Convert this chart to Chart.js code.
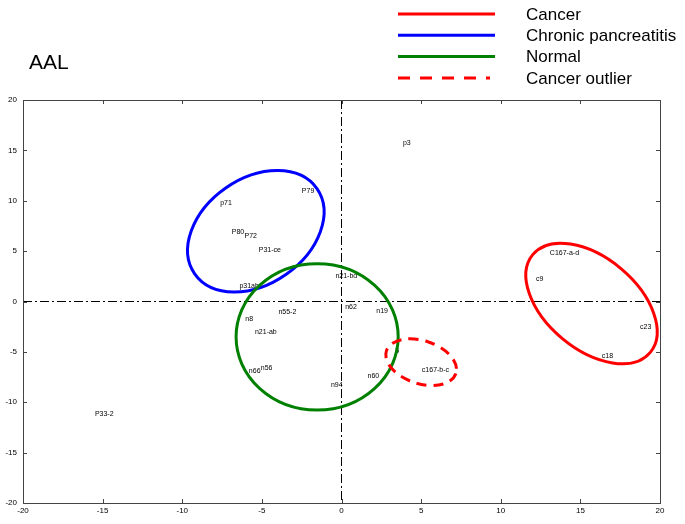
<!DOCTYPE html>
<html>
<head>
<meta charset="utf-8">
<script src="https://cdn.jsdelivr.net/npm/chart.js@4/dist/chart.umd.min.js"></script>
<style>
  body { margin: 0; background: #fff; }
  #wrap { width: 685px; height: 524px; }
</style>
</head>
<body>
<div id="wrap"><canvas id="chart" width="685" height="524"></canvas></div>
<script>
// sample names and their coordinates
const sampleNames = ['p3', 'P79', 'p71', 'P80', 'P72', 'P31-ce', 'p31ab',
  'n21-bd', 'n62', 'n19', 'n55-2', 'n8', 'n21-ab', 'n66', 'n56', 'n94', 'n60', '5',
  'c167-b-c', 'C167-a-d', 'c9', 'c23', 'c18', 'P33-2'];
const sampleX = [4.1, -2.1, -7.25, -6.5, -5.7, -4.5, -5.8,
  0.3, 0.6, 2.55, -3.4, -5.8, -4.75, -5.45, -4.7, -0.3, 2.0, 3.5,
  5.9, 14.0, 12.45, 19.1, 16.7, -14.9];
const sampleY = [15.75, 10.95, 9.8, 6.85, 6.45, 5.15, 1.5,
  2.5, -0.55, -0.9, -1.05, -1.7, -3.0, -6.95, -6.6, -8.3, -7.45, -4.95,
  -6.85, 4.8, 2.25, -2.55, -5.45, -11.2];

// axis ticks
const xTicks = [-20, -15, -10, -5, 0, 5, 10, 15, 20];
const yTicks = [-20, -15, -10, -5, 0, 5, 10, 15, 20];

// group ellipses: centre and two semi-axis vectors in data units
const groupNames = ['Cancer', 'Chronic pancreatitis', 'Normal', 'Cancer outlier'];
const groupColors = ['#ff0000', '#0000ff', '#008000', '#ff0000'];
const groupDashed = [false, false, false, true];
const groupCenters = [[15.7, -0.2], [-5.38, 6.97], [-1.53, -3.51], [5.0, -6.02]];
const groupAxisU = [[3.69, -4.85], [3.84, 4.23], [5.09, 0], [2.18, -1.12]];
const groupAxisV = [[-1.83, -3.49], [1.89, -4.29], [0, 7.26], [-0.42, -2.03]];

const FONT = 'Arial, "Liberation Sans", sans-serif';

function ellipsePath(ctx, xs, ys, c, u, v) {
  const cx = xs.getPixelForValue(c[0]), cy = ys.getPixelForValue(c[1]);
  const ux = xs.getPixelForValue(c[0] + u[0]) - cx, uy = ys.getPixelForValue(c[1] + u[1]) - cy;
  const vx = xs.getPixelForValue(c[0] + v[0]) - cx, vy = ys.getPixelForValue(c[1] + v[1]) - cy;
  ctx.beginPath();
  ctx.save();
  ctx.transform(ux, uy, vx, vy, cx, cy);
  ctx.arc(0, 0, 1, 0, Math.PI * 2);
  ctx.restore();
}

const decor = {
  id: 'decor',
  beforeDatasetsDraw(chart) {
    const { ctx, chartArea: a, scales: { x, y } } = chart;
    // dash-dot zero lines
    ctx.save();
    ctx.strokeStyle = '#000';
    ctx.lineWidth = 1;
    ctx.setLineDash([9, 3, 2, 3]);
    const y0 = y.getPixelForValue(0), x0 = x.getPixelForValue(0);
    ctx.beginPath();
    ctx.moveTo(a.left, y0); ctx.lineTo(a.right, y0);
    ctx.moveTo(x0, a.top); ctx.lineTo(x0, a.bottom);
    ctx.stroke();
    ctx.restore();
  },
  afterDatasetsDraw(chart) {
    const { ctx, chartArea: a, scales: { x, y } } = chart;
    // point labels
    const meta = chart.getDatasetMeta(0);
    ctx.save();
    ctx.font = '7px ' + FONT;
    ctx.fillStyle = '#000';
    ctx.textAlign = 'center';
    ctx.textBaseline = 'middle';
    meta.data.forEach((pt, i) => ctx.fillText(sampleNames[i], pt.x, pt.y));
    ctx.restore();

    // ellipses
    groupNames.forEach((g, i) => {
      ctx.save();
      ellipsePath(ctx, x, y, groupCenters[i], groupAxisU[i], groupAxisV[i]);
      ctx.strokeStyle = groupColors[i];
      ctx.lineWidth = 3;
      if (groupDashed[i]) ctx.setLineDash([10, 7]);
      ctx.stroke();
      ctx.restore();
    });

    // frame and inward ticks
    ctx.save();
    ctx.strokeStyle = '#444';
    ctx.lineWidth = 1;
    ctx.strokeRect(a.left + 0.5, a.top + 0.5, a.right - a.left, a.bottom - a.top);
    ctx.beginPath();
    xTicks.forEach(v => {
      const px = Math.round(x.getPixelForValue(v)) + 0.5;
      ctx.moveTo(px, a.bottom); ctx.lineTo(px, a.bottom - 4);
      ctx.moveTo(px, a.top); ctx.lineTo(px, a.top + 4);
    });
    yTicks.forEach(v => {
      const py = Math.round(y.getPixelForValue(v)) + 0.5;
      ctx.moveTo(a.left, py); ctx.lineTo(a.left + 4, py);
      ctx.moveTo(a.right, py); ctx.lineTo(a.right - 4, py);
    });
    ctx.stroke();
    ctx.restore();
  },
  afterDraw(chart) {
    const { ctx } = chart;
    ctx.save();
    // title
    ctx.fillStyle = '#000';
    ctx.font = '21px ' + FONT;
    ctx.textBaseline = 'middle';
    ctx.fillText('AAL', 29, 63);
    // legend
    ctx.font = '17px ' + FONT;
    groupNames.forEach((g, i) => {
      const ly = 14 + i * 21.3;
      ctx.strokeStyle = groupColors[i];
      ctx.lineWidth = 3;
      ctx.setLineDash(groupDashed[i] ? [12, 10] : []);
      ctx.beginPath();
      ctx.moveTo(398, ly); ctx.lineTo(groupDashed[i] ? 490 : 495, ly);
      ctx.stroke();
      ctx.fillText(g, 526, ly + 1);
    });
    ctx.restore();
  }
};

new Chart(document.getElementById('chart'), {
  type: 'scatter',
  data: {
    datasets: [{
      data: sampleX.map((v, i) => ({ x: v, y: sampleY[i] })),
      pointRadius: 0,
      pointHoverRadius: 0
    }]
  },
  options: {
    responsive: false,
    devicePixelRatio: 1,
    animation: false,
    events: [],
    layout: { padding: { top: 100, right: 25, left: 0, bottom: 0 } },
    plugins: { legend: { display: false }, tooltip: { enabled: false } },
    scales: {
      x: {
        type: 'linear', min: -20, max: 20,
        grid: { display: false, drawTicks: false },
        border: { display: false },
        afterBuildTicks: s => { s.ticks = xTicks.map(v => ({ value: v })); },
        afterFit: s => { s.height = 21; },
        ticks: { font: { size: 8, family: FONT }, color: '#000', padding: 3, maxRotation: 0 }
      },
      y: {
        type: 'linear', min: -20, max: 20,
        grid: { display: false, drawTicks: false },
        border: { display: false },
        afterBuildTicks: s => { s.ticks = yTicks.map(v => ({ value: v })); },
        afterFit: s => { s.width = 23; },
        ticks: { font: { size: 8, family: FONT }, color: '#000', padding: 6 }
      }
    }
  },
  plugins: [decor]
});
</script>
</body>
</html>
